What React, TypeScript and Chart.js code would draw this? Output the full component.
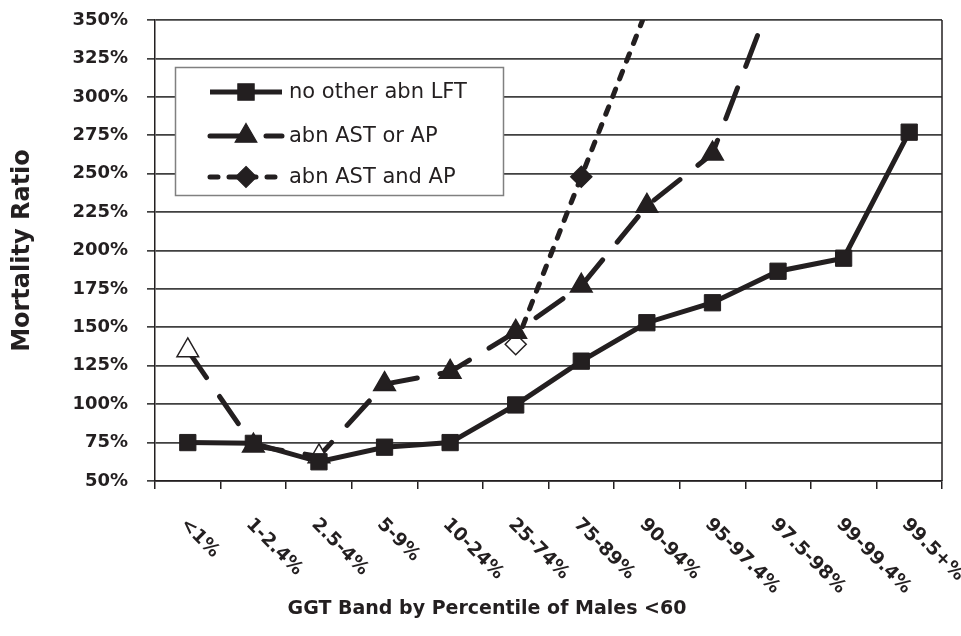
import React, { useEffect, useRef } from 'react';
import { Chart, registerables } from 'chart.js';

Chart.register(...registerables);

// ---------- data ----------
const categories = ['<1%', '1-2.4%', '2.5-4%', '5-9%', '10-24%', '25-74%', '75-89%', '90-94%', '95-97.4%', '97.5-98%', '99-99.4%', '99.5+%'];
const seriesNames = ['no other abn LFT', 'abn AST or AP', 'abn AST and AP'];
const noOtherAbn = [75, 74.5, 62.5, 72, 75, 99.5, 128, 153, 166, 186.5, 195, 277];
const abnAstOrAp = [135, 73, 66, 113, 121, 147, 177, 229, 263, 375, null, null];
const abnAstAndAp = [null, null, null, null, null, 139, 248, 357, null, null, null, null];
// hollow (open) markers
const openAstOrAp = [true, false, true, false, false, false, false, false, false, false, false, false];
const openAstAndAp = [false, false, false, false, false, true, false, false, false, false, false, false];
const yMin = 50;
const yMax = 350;
const yStep = 25;
const xTitle = 'GGT Band by Percentile of Males <60';
const yTitle = 'Mortality Ratio';

const INK = '#231f20';
const FONT = "'DejaVu Sans'";

function drawMarker(ctx: CanvasRenderingContext2D, style: string, x: number, y: number, r: number, fill: string) {
  ctx.beginPath();
  if (style === 'rect') {
    const s = Math.SQRT1_2 * r;
    ctx.rect(x - s, y - s, 2 * s, 2 * s);
  } else if (style === 'triangle') {
    ctx.moveTo(x, y - r);
    ctx.lineTo(x + r * Math.sin(Math.PI * 2 / 3), y - r * Math.cos(Math.PI * 2 / 3));
    ctx.lineTo(x - r * Math.sin(Math.PI * 2 / 3), y - r * Math.cos(Math.PI * 2 / 3));
    ctx.closePath();
  } else {
    ctx.moveTo(x, y - r);
    ctx.lineTo(x + r, y);
    ctx.lineTo(x, y + r);
    ctx.lineTo(x - r, y);
    ctx.closePath();
  }
  ctx.fillStyle = fill;
  ctx.fill();
  ctx.lineWidth = 1.2;
  ctx.strokeStyle = INK;
  ctx.setLineDash([]);
  ctx.stroke();
}

const overlayPlugin = {
  id: 'overlay',
  afterDraw(chart: any) {
    const { ctx, chartArea: a, scales } = chart;
    const xs = scales.x;
    ctx.save();

    // right border of plot area
    ctx.strokeStyle = INK;
    ctx.lineWidth = 1.5;
    ctx.setLineDash([]);
    ctx.beginPath();
    ctx.moveTo(a.right, a.top);
    ctx.lineTo(a.right, a.bottom);
    ctx.stroke();

    // rotated category labels (clockwise 45deg)
    ctx.fillStyle = INK;
    ctx.font = `bold 18.5px ${FONT}`;
    ctx.textAlign = 'left';
    ctx.textBaseline = 'alphabetic';
    categories.forEach((lab, i) => {
      const x = xs.getPixelForValue(i);
      ctx.save();
      ctx.translate(x - 8, a.bottom + 44);
      ctx.rotate(Math.PI / 4);
      ctx.fillText(lab, 0, 0);
      ctx.restore();
    });

    // x axis title
    ctx.font = `bold 19px ${FONT}`;
    ctx.textAlign = 'center';
    ctx.fillText(xTitle, 487, 614);

    // legend
    const bx = 175.5, by = 67.5, bw = 328, bh = 128;
    ctx.fillStyle = '#ffffff';
    ctx.fillRect(bx, by, bw, bh);
    ctx.strokeStyle = '#808080';
    ctx.lineWidth = 1.5;
    ctx.strokeRect(bx, by, bw, bh);

    const rows = [92, 136, 177];
    const ds = chart.data.datasets;
    ds.forEach((d: any, i: number) => {
      const y = rows[i];
      ctx.save();
      ctx.beginPath();
      ctx.rect(205, y - 10, 80, 20);
      ctx.clip();
      ctx.strokeStyle = INK;
      ctx.lineWidth = d.borderWidth;
      ctx.lineCap = d.borderCapStyle || 'butt';
      ctx.setLineDash(d.borderDash || []);
      ctx.beginPath();
      ctx.moveTo(210, y);
      ctx.lineTo(282, y);
      ctx.stroke();
      ctx.restore();
      drawMarker(ctx, d.pointStyle, 246, y, d.pointRadius, INK);
      ctx.fillStyle = INK;
      ctx.font = `21px ${FONT}`;
      ctx.textAlign = 'left';
      ctx.textBaseline = 'middle';
      ctx.fillText(seriesNames[i], 289, y + 1);
    });

    ctx.restore();
  },
};

export default function App() {
  const ref = useRef<HTMLCanvasElement | null>(null);

  useEffect(() => {
    if (!ref.current) return;
    Chart.defaults.font.family = FONT;
    const chart = new Chart(ref.current, {
      type: 'line',
      data: {
        labels: categories,
        datasets: [
          {
            label: seriesNames[0],
            data: noOtherAbn,
            borderColor: INK,
            borderWidth: 5,
            borderCapStyle: 'butt',
            pointStyle: 'rect',
            pointRadius: 11.5,
            pointBorderWidth: 1,
            pointBackgroundColor: INK,
            pointBorderColor: INK,
            tension: 0,
            clip: 0,
          } as any,
          {
            label: seriesNames[1],
            data: abnAstOrAp,
            borderColor: INK,
            borderWidth: 5,
            borderDash: [33, 23],
            borderCapStyle: 'round',
            pointStyle: 'triangle',
            pointRadius: 12.5,
            pointBorderWidth: 1.5,
            pointBackgroundColor: openAstOrAp.map((o) => (o ? '#ffffff' : INK)),
            pointBorderColor: INK,
            tension: 0,
            clip: 0,
          } as any,
          {
            label: seriesNames[2],
            data: abnAstAndAp,
            borderColor: INK,
            borderWidth: 5,
            borderDash: [8, 11],
            borderCapStyle: 'round',
            pointStyle: 'rectRot',
            pointRadius: 10.5,
            pointBorderWidth: 1.5,
            pointBackgroundColor: openAstAndAp.map((o) => (o ? '#ffffff' : INK)),
            pointBorderColor: INK,
            tension: 0,
            clip: 0,
          } as any,
        ],
      },
      options: {
        animation: false,
        responsive: false,
        events: [],
        layout: { padding: { top: 20, right: 19, bottom: 0, left: 0 } },
        plugins: {
          legend: { display: false },
          tooltip: { enabled: false },
          title: { display: false },
        },
        scales: {
          x: {
            type: 'category',
            offset: true,
            grid: {
              offset: true,
              drawOnChartArea: false,
              drawTicks: true,
              tickLength: 8,
              color: INK,
              lineWidth: 1.5,
            },
            border: { display: true, color: INK, width: 1.5 },
            ticks: { display: false },
            afterFit: (s: any) => {
              s.height = 155;
              s.paddingLeft = 0;
              s.paddingRight = 0;
            },
          },
          y: {
            min: yMin,
            max: yMax,
            ticks: {
              stepSize: yStep,
              callback: (v: any) => `${v}%`,
              font: { family: FONT, weight: 'bold', size: 18 },
              color: INK,
              padding: 19,
            },
            grid: {
              color: '#404040',
              lineWidth: 1.7,
              drawTicks: true,
              tickLength: 8,
            },
            border: { display: true, color: INK, width: 1.5 },
            title: {
              display: true,
              text: yTitle,
              font: { family: FONT, weight: 'bold', size: 24 },
              color: INK,
              padding: { top: 8, bottom: 0 },
            },
            afterFit: (s: any) => {
              s.width = 155;
              s.paddingTop = 0;
              s.paddingBottom = 0;
            },
          },
        },
      } as any,
      plugins: [overlayPlugin],
    });
    return () => chart.destroy();
  }, []);

  return (
    <div style={{ position: 'absolute', left: 0, top: 0, width: 961, height: 636, background: '#ffffff' }}>
      <canvas ref={ref} width={961} height={636} style={{ display: 'block' }} />
    </div>
  );
}
